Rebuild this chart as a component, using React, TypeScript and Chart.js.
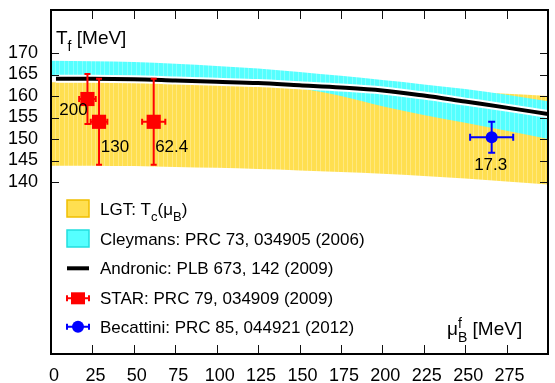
import React, { useEffect, useRef } from 'react';
import { Chart, registerables } from 'chart.js';

Chart.register(...registerables);

// ---------- data ----------
const muGrid = [0, 25, 50, 75, 100, 125, 150, 175, 200, 225, 250, 275, 300];
const lgtUpper = [163.2, 163.2, 163.1, 163.0, 162.8, 162.6, 162.4, 162.1, 161.8, 161.4, 161.0, 160.5, 160.0];
const lgtLower = [143.8, 143.8, 143.7, 143.5, 143.3, 143.0, 142.7, 142.3, 141.9, 141.4, 140.8, 140.1, 139.4];
const cleymansUpper = [168.2, 168.1, 167.9, 167.5, 167.0, 166.4, 165.6, 164.7, 163.7, 162.7, 161.6, 160.3, 158.8];
const cleymansLower = [164.6, 164.5, 164.3, 164.0, 163.5, 162.8, 161.8, 160.0, 157.6, 155.6, 153.8, 151.9, 150.0];
const andronicMu = [3, 25, 50, 75, 100, 125, 150, 175, 200, 225, 250, 275, 300];
const andronicT = [164.0, 164.0, 163.9, 163.6, 163.3, 163.0, 162.5, 162.0, 161.3, 160.1, 158.7, 157.3, 155.8];

const starMu = [22, 29, 62];
const starMuErr = [5, 5, 7];
const starT = [159.3, 154, 154];
const starTErr = [5.8, 10, 10];
const starLabels = ['200', '130', '62.4'];

const becMu = [266];
const becMuErr = [13];
const becT = [150.4];
const becTErr = [3.6];
const becLabels = ['17.3'];

const xTicks = [0, 25, 50, 75, 100, 125, 150, 175, 200, 225, 250, 275];
const yTicks = [140, 145, 150, 155, 160, 165, 170];

const legendLabels = [
  'LGT: T_c(μ_B)',
  'Cleymans: PRC 73, 034905 (2006)',
  'Andronic: PLB 673, 142 (2009)',
  'STAR: PRC 79, 034909 (2009)',
  'Becattini: PRC 85, 044921 (2012)',
];

// ---------- styles ----------
const FONT = '"Liberation Sans", Arial, Helvetica, sans-serif';
const YELLOW = '#ffdf50';
const YELLOW_EDGE = '#efbe00';
const CYAN = '#55ffff';
const CYAN_EDGE = '#22dede';
const RED = '#ff0000';
const BLUE = '#0000ff';

type Seg = { t: string; s?: 'sub' | 'sup'; stay?: boolean };

function parseRich(str: string): Seg[] {
  const segs: Seg[] = [];
  let buf = '';
  for (let i = 0; i < str.length; i++) {
    const c = str[i];
    if (c === '_' && i + 1 < str.length) {
      if (buf) segs.push({ t: buf });
      buf = '';
      segs.push({ t: str[i + 1], s: 'sub' });
      i++;
    } else buf += c;
  }
  if (buf) segs.push({ t: buf });
  return segs;
}

function drawRich(ctx: CanvasRenderingContext2D, segs: Seg[], x: number, y: number, size: number) {
  let cx = x;
  ctx.textAlign = 'left';
  ctx.textBaseline = 'alphabetic';
  for (const seg of segs) {
    const fs = seg.s ? Math.round(size * 0.75) : size;
    ctx.font = `${fs}px ${FONT}`;
    const dy = seg.s === 'sub' ? size * 0.38 : seg.s === 'sup' ? -size * 0.36 : 0;
    ctx.fillText(seg.t, cx, y + dy);
    if (!seg.stay) cx += ctx.measureText(seg.t).width;
  }
}

function drawErrorBars(
  ctx: CanvasRenderingContext2D,
  chart: any,
  mu: number[],
  muErr: number[],
  T: number[],
  TErr: number[],
  color: string,
  cap: number
) {
  const xs = chart.scales.x;
  const ys = chart.scales.y;
  ctx.save();
  ctx.strokeStyle = color;
  ctx.lineWidth = 2;
  for (let i = 0; i < mu.length; i++) {
    const px = xs.getPixelForValue(mu[i]);
    const py = ys.getPixelForValue(T[i]);
    const x1 = xs.getPixelForValue(mu[i] - muErr[i]);
    const x2 = xs.getPixelForValue(mu[i] + muErr[i]);
    const y1 = ys.getPixelForValue(T[i] + TErr[i]);
    const y2 = ys.getPixelForValue(T[i] - TErr[i]);
    ctx.beginPath();
    ctx.moveTo(x1, py); ctx.lineTo(x2, py);
    ctx.moveTo(x1, py - cap); ctx.lineTo(x1, py + cap);
    ctx.moveTo(x2, py - cap); ctx.lineTo(x2, py + cap);
    ctx.moveTo(px, y1); ctx.lineTo(px, y2);
    ctx.moveTo(px - cap, y1); ctx.lineTo(px + cap, y1);
    ctx.moveTo(px - cap, y2); ctx.lineTo(px + cap, y2);
    ctx.stroke();
  }
  ctx.restore();
}

const pts = (xs: number[], ys: number[]) => xs.map((x, i) => ({ x, y: ys[i] }));

const zeroPad = (s: any) => {
  s.paddingTop = 0;
  s.paddingBottom = 0;
  s.paddingLeft = 0;
  s.paddingRight = 0;
};

export default function App() {
  const ref = useRef<HTMLCanvasElement>(null);

  useEffect(() => {
    const canvas = ref.current;
    if (!canvas) return;

    const HALO_IDX = 4;
    const STAR_IDX = 6;
    const BEC_IDX = 7;

    const plugin = {
      id: 'gnuplotDecor',
      beforeDatasetDraw(chart: any, args: any) {
        const ctx: CanvasRenderingContext2D = chart.ctx;
        if (args.index === HALO_IDX) {
          // faint vertical rendering stripes seen on the filled bands
          const a = chart.chartArea;
          ctx.save();
          ctx.strokeStyle = 'rgba(255,255,255,0.28)';
          ctx.lineWidth = 1;
          ctx.beginPath();
          for (let x = a.left + 3.5; x < a.right; x += 4.5) {
            const px = Math.round(x) + 0.5;
            ctx.moveTo(px, a.top);
            ctx.lineTo(px, a.bottom);
          }
          ctx.stroke();
          ctx.restore();
        }
        if (args.index === STAR_IDX) drawErrorBars(ctx, chart, starMu, starMuErr, starT, starTErr, RED, 3);
        if (args.index === BEC_IDX) drawErrorBars(ctx, chart, becMu, becMuErr, becT, becTErr, BLUE, 3.5);
      },
      afterDatasetsDraw(chart: any) {
        const ctx: CanvasRenderingContext2D = chart.ctx;
        const a = chart.chartArea;
        const xs = chart.scales.x;
        const ys = chart.scales.y;
        ctx.save();
        ctx.strokeStyle = '#111';
        ctx.lineWidth = 1;
        ctx.beginPath();
        for (const v of xTicks) {
          const px = Math.round(xs.getPixelForValue(v)) + 0.5;
          ctx.moveTo(px, a.bottom); ctx.lineTo(px, a.bottom - 9);
          ctx.moveTo(px, a.top); ctx.lineTo(px, a.top + 9);
        }
        for (const v of yTicks) {
          const py = Math.round(ys.getPixelForValue(v)) + 0.5;
          ctx.moveTo(a.left, py); ctx.lineTo(a.left + 8, py);
          ctx.moveTo(a.right, py); ctx.lineTo(a.right - 8, py);
        }
        ctx.stroke();
        ctx.strokeStyle = '#000';
        ctx.lineWidth = 2;
        ctx.strokeRect(a.left, a.top, a.right - a.left, a.bottom - a.top);

        ctx.fillStyle = '#000';
        ctx.font = `17px ${FONT}`;
        ctx.textAlign = 'center';
        ctx.textBaseline = 'middle';
        const starOff = [[-14, 11.5], [16, 26], [18, 26]];
        starLabels.forEach((lab, i) => {
          ctx.fillText(lab, xs.getPixelForValue(starMu[i]) + starOff[i][0], ys.getPixelForValue(starT[i]) + starOff[i][1]);
        });
        const becOff = [[-1, 28]];
        becLabels.forEach((lab, i) => {
          ctx.fillText(lab, xs.getPixelForValue(becMu[i]) + becOff[i][0], ys.getPixelForValue(becT[i]) + becOff[i][1]);
        });

        drawRich(ctx, [{ t: 'T' }, { t: 'f', s: 'sub' }, { t: ' [MeV]' }], a.left + 5, a.top + 34, 19);
        drawRich(
          ctx,
          [{ t: 'μ' }, { t: 'f', s: 'sup', stay: true }, { t: 'B', s: 'sub' }, { t: ' [MeV]' }],
          a.right - 101,
          a.bottom - 19,
          19
        );
        ctx.restore();
      },
      afterDraw(chart: any) {
        const ctx: CanvasRenderingContext2D = chart.ctx;
        const a = chart.chartArea;
        ctx.save();
        const bx0 = a.left + 16;
        const bx1 = a.left + 38;
        const bxc = (bx0 + bx1) / 2;
        const tx = a.left + 49;
        const rows = [208.5, 238.5, 268.3, 298.3, 326.7];
        ctx.fillStyle = YELLOW;
        ctx.strokeStyle = YELLOW_EDGE;
        ctx.lineWidth = 1.5;
        ctx.fillRect(bx0, rows[0] - 8.5, 22, 17);
        ctx.strokeRect(bx0, rows[0] - 8.5, 22, 17);
        ctx.fillStyle = CYAN;
        ctx.strokeStyle = CYAN_EDGE;
        ctx.fillRect(bx0, rows[1] - 8.5, 22, 17);
        ctx.strokeRect(bx0, rows[1] - 8.5, 22, 17);
        ctx.strokeStyle = '#000';
        ctx.lineWidth = 4;
        ctx.beginPath();
        ctx.moveTo(bx0, rows[2]); ctx.lineTo(bx1, rows[2]);
        ctx.stroke();
        const errSym = (y: number, color: string) => {
          ctx.strokeStyle = color;
          ctx.lineWidth = 2;
          ctx.beginPath();
          ctx.moveTo(bx0, y); ctx.lineTo(bx1, y);
          ctx.moveTo(bx0, y - 3); ctx.lineTo(bx0, y + 3);
          ctx.moveTo(bx1, y - 3); ctx.lineTo(bx1, y + 3);
          ctx.stroke();
        };
        errSym(rows[3], RED);
        ctx.fillStyle = RED;
        ctx.fillRect(bxc - 7, rows[3] - 6, 14, 12);
        errSym(rows[4], BLUE);
        ctx.fillStyle = BLUE;
        ctx.beginPath();
        ctx.arc(bxc, rows[4], 6, 0, Math.PI * 2);
        ctx.fill();
        ctx.fillStyle = '#000';
        legendLabels.forEach((lab, i) => {
          drawRich(ctx, parseRich(lab), tx, rows[i] + 6, 17);
        });
        ctx.restore();
      },
    };

    const bandLine = { showLine: true, pointRadius: 0, borderWidth: 0, cubicInterpolationMode: 'monotone' as const };

    const chart = new Chart(canvas, {
      type: 'scatter',
      data: {
        datasets: [
          { ...bandLine, label: legendLabels[0], data: pts(muGrid, lgtUpper), fill: '+1', backgroundColor: YELLOW, borderColor: YELLOW, order: 10 },
          { ...bandLine, label: 'lgt-low', data: pts(muGrid, lgtLower), fill: false, borderColor: YELLOW, order: 9 },
          { ...bandLine, label: legendLabels[1], data: pts(muGrid, cleymansUpper), fill: '+1', backgroundColor: CYAN, borderColor: CYAN, order: 8 },
          { ...bandLine, label: 'cley-low', data: pts(muGrid, cleymansLower), fill: false, borderColor: CYAN, order: 7 },
          { label: 'halo', data: pts(andronicMu, andronicT), showLine: true, pointRadius: 0, borderWidth: 8, borderColor: '#ffffff', fill: false, cubicInterpolationMode: 'monotone', borderCapStyle: 'butt', order: 6 },
          { label: legendLabels[2], data: pts(andronicMu, andronicT), showLine: true, pointRadius: 0, borderWidth: 4, borderColor: '#000000', fill: false, cubicInterpolationMode: 'monotone', borderCapStyle: 'butt', order: 5 },
          { label: legendLabels[3], data: pts(starMu, starT), showLine: false, pointStyle: 'rect', pointRadius: 10, pointHoverRadius: 10, backgroundColor: RED, borderColor: RED, borderWidth: 0, order: 4 },
          { label: legendLabels[4], data: pts(becMu, becT), showLine: false, pointStyle: 'circle', pointRadius: 6, pointHoverRadius: 6, backgroundColor: BLUE, borderColor: BLUE, borderWidth: 0, order: 3 },
        ] as any,
      },
      options: {
        animation: false,
        responsive: false,
        devicePixelRatio: 1,
        events: [],
        layout: { padding: { top: 8, right: 0, left: 0, bottom: 0 } },
        plugins: { legend: { display: false }, tooltip: { enabled: false }, title: { display: false } },
        scales: {
          x: {
            type: 'linear',
            min: 0,
            max: 300,
            grid: { display: false, drawTicks: false },
            border: { display: false },
            ticks: { color: '#000', font: { family: FONT, size: 18 }, padding: 11, labelOffset: 3, autoSkip: false, maxRotation: 0 },
            afterBuildTicks: (s: any) => { s.ticks = xTicks.map((v) => ({ value: v })); },
            afterFit: (s: any) => { s.height = 29; zeroPad(s); },
          },
          y: {
            type: 'linear',
            min: 100,
            max: 180,
            grid: { display: false, drawTicks: false },
            border: { display: false },
            ticks: { color: '#000', font: { family: FONT, size: 18 }, padding: 13, autoSkip: false },
            afterBuildTicks: (s: any) => { s.ticks = yTicks.map((v) => ({ value: v })); },
            afterFit: (s: any) => { s.width = 51; zeroPad(s); },
          },
        },
      } as any,
      plugins: [plugin],
    });

    return () => chart.destroy();
  }, []);

  return (
    <div style={{ position: 'absolute', left: 0, top: 0, width: 555, height: 383, overflow: 'hidden', background: '#fff' }}>
      <canvas ref={ref} width={558} height={383} style={{ display: 'block', width: 558, height: 383 }} />
    </div>
  );
}
